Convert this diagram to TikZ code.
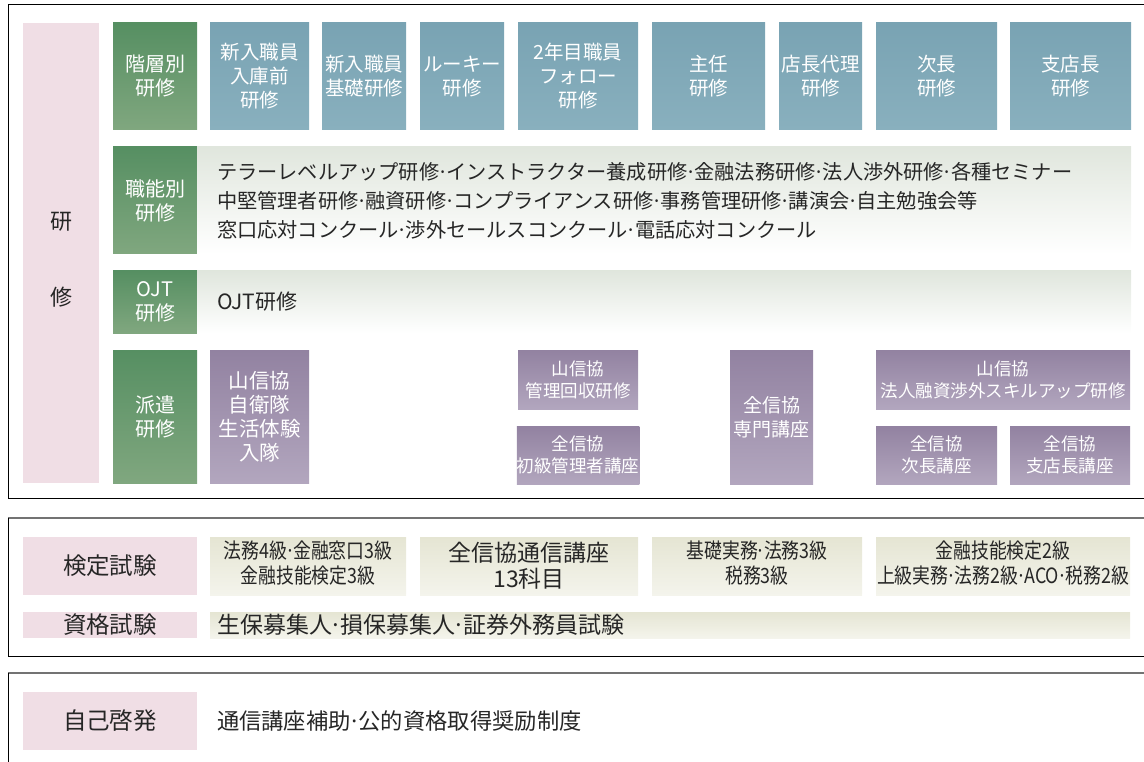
\documentclass[tikz,border=0pt]{standalone}
\usepackage{fontspec}
\setmainfont{Noto Sans CJK JP}
\definecolor{pinkc}{HTML}{F0DEE5}
\definecolor{greenT}{HTML}{568F62}
\definecolor{greenB}{HTML}{80A77F}
\definecolor{blueT}{HTML}{79A3B3}
\definecolor{blueB}{HTML}{89B0BE}
\definecolor{purpT}{HTML}{9282A1}
\definecolor{purpB}{HTML}{B2A6BE}
\definecolor{bandT}{HTML}{E0E6DD}
\definecolor{examT}{HTML}{E5E5D3}
\definecolor{examB}{HTML}{F4F4EC}
\definecolor{textc}{HTML}{262626}
\tikzset{
 every node/.style={inner sep=0pt, outer sep=0pt, align=center},
 pinkbox/.style={fill=pinkc, text=textc, font=\fontsize{23.5}{26}\selectfont},
 greenbox/.style={top color=greenT, bottom color=greenB, text=white, font=\fontsize{20}{24}\selectfont},
 bluebox/.style={top color=blueT, bottom color=blueB, text=white, font=\fontsize{19.5}{24}\selectfont},
 purpbox/.style={top color=purpT, bottom color=purpB, text=white, font=\fontsize{17.5}{22}\selectfont},
 band/.style={top color=bandT, bottom color=white},
 exambox/.style={top color=examT, bottom color=examB, text=textc, font=\fontsize{21}{25}\selectfont},
 bandtext/.style={anchor=west, align=left, text=textc},
 frame/.style={line width=1pt, draw=black},
 topline/.style={line width=1.5pt, draw=black!55},
}
\newcommand\bx[7]{\node[#6, minimum width={(#4-#2)*1pt}, minimum height={(#5-#3)*1pt}] (#1) at ({(#2+#4)/2},{(#3+#5)/2}) {#7};}
\newcommand\cnd[1]{\scalebox{0.85}[1]{\begin{tabular}{@{}c@{}}#1\end{tabular}}}
\newcommand\dt{\makebox[0.35em]{·}}
\begin{document}
\begin{tikzpicture}[x=1pt,y=-1pt]
\useasboundingbox (0,0) rectangle (1144,762);
% frames
\draw[frame] (1144,5) -- (8,5) -- (8,498) -- (1144,498);
\draw[topline] (8,518) -- (1144,518);
\draw[frame] (8,518) -- (8,656) -- (1144,656);
\draw[topline] (8,673) -- (1144,673);
\draw[frame] (8,673) -- (8,762);
% left column
\bx{col}{23}{23}{99}{483}{pinkbox}{}
\node[text=textc, font=\fontsize{22}{76}\selectfont] (collbl) at (61,260) {研\\修};
% row 1
\bx{g1}{113}{23}{197}{130}{greenbox}{階層別\\研修}
\bx{b1}{210}{23}{309}{130}{bluebox}{新入職員\\入庫前\\研修}
\bx{b2}{322}{23}{406}{130}{bluebox}{新入職員\\基礎研修}
\bx{b3}{420}{23}{504}{130}{bluebox}{ルーキー\\研修}
\bx{b4}{518}{23}{638}{130}{bluebox}{2年目職員\\フォロー\\研修}
\bx{b5}{652}{23}{765}{130}{bluebox}{主任\\研修}
\bx{b6}{779}{23}{862}{130}{bluebox}{店長代理\\研修}
\bx{b7}{876}{23}{997}{130}{bluebox}{次長\\研修}
\bx{b8}{1010}{23}{1131}{130}{bluebox}{支店長\\研修}
% row 2
\bx{g2}{113}{147}{197}{254}{greenbox}{職能別\\研修}
\bx{band2}{197}{147}{1131}{254}{band}{}
\node[bandtext, font=\fontsize{20.2}{29}\selectfont] (t2) at (217,201) {テラーレベルアップ研修\dt インストラクター養成研修\dt 金融法務研修\dt 法人渉外研修\dt 各種セミナー\\中堅管理者研修\dt 融資研修\dt コンプライアンス研修\dt 事務管理研修\dt 講演会\dt 自主勉強会等\\窓口応対コンクール\dt 渉外セールスコンクール\dt 電話応対コンクール};
% row 3
\bx{g3}{113}{271}{197}{333}{greenbox}{OJT\\研修}
\bx{band3}{197}{271}{1131}{333}{band}{}
\node[bandtext, font=\fontsize{21}{25}\selectfont] (t3) at (217,302) {OJT研修};
% row 4
\bx{g4}{113}{350}{197}{483}{greenbox}{派遣\\研修}
\bx{p1}{210}{350}{309}{483}{purpbox, font=\fontsize{20.5}{24}\selectfont}{山信協\\自衛隊\\生活体験\\入隊}
\bx{p2}{518}{350}{638}{409}{purpbox}{山信協\\管理回収研修}
\bx{p3}{518}{426}{638}{484}{purpbox}{全信協\\初級管理者講座}
\bx{p4}{730}{350}{813}{484}{purpbox, font=\fontsize{19}{24}\selectfont}{全信協\\専門講座}
\bx{p5}{876}{350}{1130}{409}{purpbox}{山信協\\法人融資渉外スキルアップ研修}
\bx{p6}{876}{426}{997}{484}{purpbox}{全信協\\次長講座}
\bx{p7}{1010}{426}{1130}{484}{purpbox}{全信協\\支店長講座}
% box 2
\bx{kt}{23}{537}{197}{595}{pinkbox}{検定試験}
\bx{ex1}{210}{537}{406}{595}{exambox}{\cnd{法務4級\dt 金融窓口3級\\金融技能検定3級}}
\bx{ex2}{420}{537}{638}{595}{exambox, font=\fontsize{23}{26}\selectfont}{全信協通信講座\\13科目}
\bx{ex3}{652}{537}{862}{595}{exambox}{\cnd{基礎実務\dt 法務3級\\税務3級}}
\bx{ex4}{876}{537}{1130}{595}{exambox}{\cnd{金融技能検定2級\\上級実務\dt 法務2級\dt ACO\dt 税務2級}}
\bx{sk}{23}{612}{197}{638}{pinkbox}{資格試験}
\bx{skband}{210}{612}{1130}{638}{exambox}{}
\node[bandtext, font=\fontsize{23}{26}\selectfont] (t5) at (217,625) {生保募集人\dt 損保募集人\dt 証券外務員試験};
% box 3
\bx{jk}{23}{692}{197}{750}{pinkbox}{自己啓発}
\node[bandtext, font=\fontsize{22.3}{26}\selectfont] (t6) at (217,721) {通信講座補助\dt 公的資格取得奨励制度};
\end{tikzpicture}
\end{document}
